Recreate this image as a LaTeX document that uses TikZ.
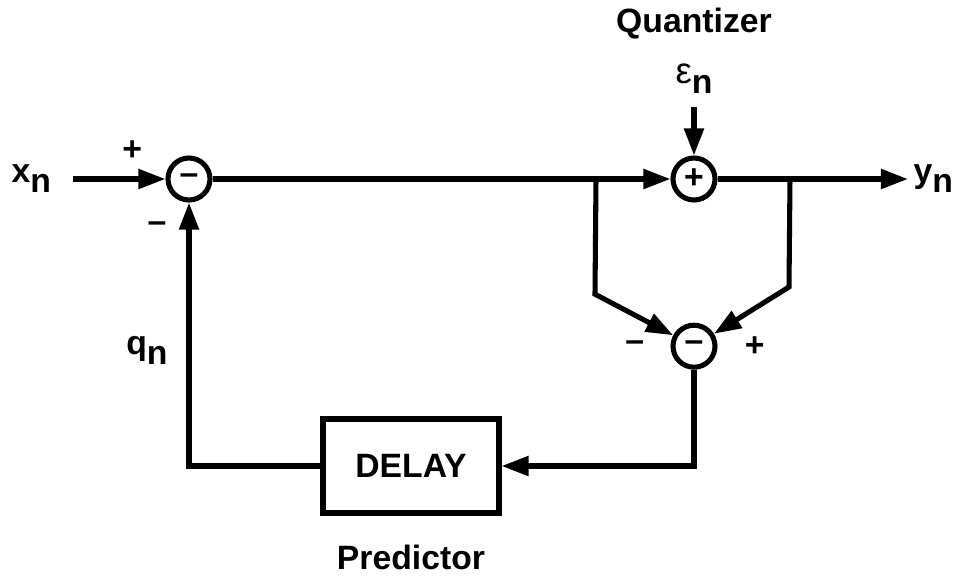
\documentclass[tikz,border=0pt]{standalone}
\usepackage{fontspec}
\setmainfont{Liberation Sans}
\usetikzlibrary{positioning}
\usetikzlibrary{arrows.meta}
\newcommand{\sig}[2]{#1\raisebox{-0.3em}{#2}}

\begin{document}
\begin{tikzpicture}[font=\bfseries\fontsize{12}{14}\selectfont, line width=1.8pt]
    % Styles:
    \tikzset{sumnode/.style={draw, circle, minimum size=0.525cm, inner sep=0pt}}
    \tikzset{blockbox/.style={draw, minimum width=2.2cm, minimum height=1.175cm}}
    \tikzset{sigline/.style={-{Triangle[length=0.34cm, width=0.24cm]}}}
    \tikzset{node distance = 1cm, on grid}

    \useasboundingbox (-2.3625,2.2375) rectangle (9.5875,-5.0);

    % Summing junctions:
    \node[sumnode] (sub) at (0,0) {--};
    \node[sumnode] (add) [right = 6.3125cm of sub] {+};
    \node[sumnode] (err) [below = 2.09cm of add] {--};

    % Block:
    \node[blockbox] (delay) [below right = 3.5875cm and 2.775cm of sub] {DELAY};

    % Terminals:
    \coordinate[left = 1.45cm of sub] (in);
    \node[] (xn)      [left = 1.97cm of sub] {\sig{x}{n}};
    \coordinate[right = 2.675cm of add] (out);
    \node[] (yn)      [right = 2.99cm of add] {\sig{y}{n}};
    \coordinate[above = 0.9cm of add] (epsin);
    \node[] (eps)     [above = 1.25cm of add] {{\mdseries\fontsize{13}{14}\selectfont ε}\raisebox{-0.3em}{n}};
    \node[] (quant)   [above = 1.94cm of add] {Quantizer};
    \node[] (pred)    [below = 1.14cm of delay] {Predictor};

    % Branch points:
    \coordinate[left = 1.225cm of add] (brl);
    \coordinate[right = 1.2cm of add] (brr);
    \coordinate[above left = 0.65cm and 1.2375cm of err] (knl);
    \coordinate[above right = 0.74cm and 1.1875cm of err] (knr);

    % Sign labels:
    \node[] (pl1) [above left = 0.36cm and 0.71cm of sub] {+};
    \node[] (mi1) [below left = 0.6cm and 0.4cm of sub] {--};
    \node[] (mi2) [left = 0.74cm of err] {--};
    \node[] (pl2) [right = 0.76cm of err] {+};
    \node[] (qn)  [below left = 2.14cm and 0.525cm of sub] {\sig{q}{n}};

    % Connectors:
    \draw[sigline] (in) -- (sub);
    \draw[sigline] (sub) -- (add);
    \draw[sigline] (add) -- (out);
    \draw[sigline] (epsin) -- (add);
    \draw[sigline] (brl) -- (knl) -- (err);
    \draw[sigline] (brr) -- (knr) -- (err);
    \draw[sigline] (err) |- (delay);
    \draw[sigline] (delay) -| (sub);
\end{tikzpicture}
\end{document}
